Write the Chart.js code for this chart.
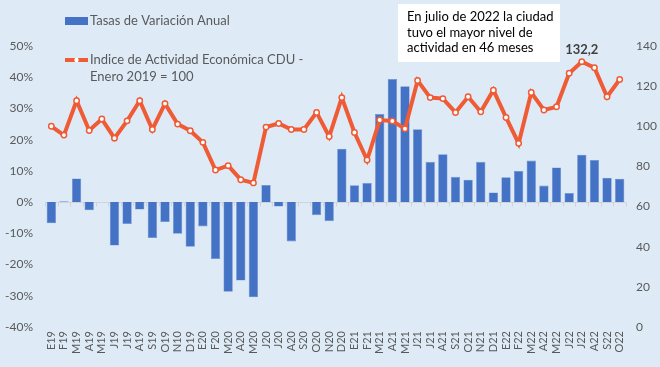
<!DOCTYPE html>
<html>
<head>
<meta charset="utf-8">
<script src="https://cdn.jsdelivr.net/npm/chart.js"></script>
<style>
  html, body { margin: 0; padding: 0; background: #DEEBF7; }
  #wrap { position: relative; width: 660px; height: 367px; }
</style>
</head>
<body>
<div id="wrap"><canvas id="chart" width="660" height="367"></canvas></div>
<script>
// --- data ---
const meses = ["E19","F19","M19","A19","M19","J19","J19","A19","S19","O19","N10","D19",
  "E20","F20","M20","A20","M20","J20","J20","A20","S20","O20","N20","D20",
  "E21","F21","M21","A21","M21","J21","J21","A21","S21","O21","N21","D21",
  "E22","F22","M22","A22","M22","J22","J22","A22","S22","O22"];

// Tasas de variación anual (%)
const variacion = [-6.8, 0.3, 7.6, -2.6, 0, -13.9, -7.0, -2.4, -11.5, -6.4, -10.1, -14.3,
  -7.8, -18.2, -28.7, -25.1, -30.5, 5.5, -1.4, -12.6, 0, -4.2, -6.1, 17.1,
  5.4, 6.1, 28.2, 39.4, 37.1, 23.3, 12.9, 15.3, 8.1, 7.2, 12.9, 3.1,
  8.0, 10.0, 13.3, 5.3, 11.1, 2.9, 15.2, 13.5, 7.8, 7.5];

// Indice de Actividad Económica CDU (Enero 2019 = 100)
const indice = [100, 95.6, 112.7, 97.9, 103.6, 94.1, 102.7, 112.7, 98.4, 111.3, 101.1, 97.8,
  92.0, 78.2, 80.4, 73.4, 71.8, 99.6, 101.4, 98.4, 98.4, 106.9, 94.9, 114.3,
  96.9, 83.2, 103.1, 102.6, 98.8, 122.8, 114.3, 113.8, 106.9, 114.7, 107.2, 118.0,
  104.4, 91.5, 116.8, 108.1, 109.7, 126.4, 132.2, 129.2, 114.7, 123.3];

const pctTicks = [-40, -30, -20, -10, 0, 10, 20, 30, 40, 50];
const idxTicks = [0, 20, 40, 60, 80, 100, 120, 140];

const nota = ["En julio de 2022 la ciudad", "tuvo el mayor nivel de", "actividad en 46 meses"];
const maxIdx = 42; // julio 2022

const AZUL = "#4472C4";
const NARANJA = "#EF5B35";
const GRIS = "#595959";
const FONT = "Lato, 'Open Sans', sans-serif";

// zero line + small ticks at category boundaries
const zeroLine = {
  id: "zeroLine",
  beforeDatasetsDraw(chart) {
    const { ctx, chartArea: a, scales } = chart;
    const y0 = Math.round(scales.y.getPixelForValue(0)) + 0.5;
    ctx.save();
    ctx.strokeStyle = "#D0D4D9";
    ctx.lineWidth = 1;
    ctx.beginPath();
    ctx.moveTo(a.left, y0);
    ctx.lineTo(a.right, y0);
    const step = (a.right - a.left) / meses.length;
    for (let i = 0; i <= meses.length; i++) {
      const x = Math.round(a.left + i * step) + 0.5;
      ctx.moveTo(x, y0);
      ctx.lineTo(x, y0 + 4);
    }
    ctx.stroke();
    ctx.restore();
  }
};

// legend, note box and max label
const extras = {
  id: "extras",
  afterDraw(chart) {
    const { ctx } = chart;
    ctx.save();
    // legend
    ctx.fillStyle = AZUL;
    ctx.fillRect(65, 17, 23, 8);
    ctx.strokeStyle = NARANJA;
    ctx.lineWidth = 4;
    ctx.beginPath();
    ctx.moveTo(65, 60);
    ctx.lineTo(88, 60);
    ctx.stroke();
    ctx.beginPath();
    ctx.arc(76.5, 60, 2.2, 0, Math.PI * 2);
    ctx.fillStyle = "#fff";
    ctx.fill();
    ctx.fillStyle = GRIS;
    ctx.font = "13px " + FONT;
    ctx.textBaseline = "middle";
    ctx.fillText("Tasas de Variación Anual", 90, 21);
    ctx.fillText("Indice de Actividad Económica CDU -", 90, 60);
    ctx.fillText("Enero 2019 = 100", 90, 77);

    // note box
    ctx.fillStyle = "#fff";
    ctx.fillRect(398, 4, 162, 58);
    ctx.fillStyle = "#000";
    ctx.font = "13px " + FONT;
    nota.forEach((t, i) => ctx.fillText(t, 407, 17 + i * 15.5));

    // max label
    const pt = chart.getDatasetMeta(1).data[maxIdx];
    ctx.fillStyle = "#404040";
    ctx.font = "bold 13px " + FONT;
    ctx.textAlign = "center";
    ctx.fillText(indice[maxIdx].toFixed(1).replace(".", ","), pt.x, pt.y - 12);
    ctx.restore();
  }
};

new Chart(document.getElementById("chart"), {
  data: {
    labels: meses,
    datasets: [
      {
        type: "bar",
        label: "Tasas de Variación Anual",
        data: variacion,
        yAxisID: "y",
        backgroundColor: AZUL,
        borderColor: "#6F8FD3",
        borderWidth: 0.6,
        barPercentage: 0.74,
        categoryPercentage: 1.0,
        order: 2
      },
      {
        type: "line",
        label: "Indice de Actividad Económica CDU - Enero 2019 = 100",
        data: indice,
        yAxisID: "y1",
        borderColor: NARANJA,
        borderWidth: 4,
        pointRadius: 2.7,
        pointBorderWidth: 1.5,
        pointBackgroundColor: "#fff",
        pointBorderColor: NARANJA,
        tension: 0,
        order: 1
      }
    ]
  },
  options: {
    responsive: false,
    devicePixelRatio: 1,
    animation: false,
    layout: { padding: { top: 46, bottom: 0, left: 0, right: 0 } },
    plugins: { legend: { display: false }, tooltip: { enabled: false } },
    scales: {
      x: {
        offset: true,
        grid: { display: false, drawTicks: false },
        border: { display: false },
        ticks: {
          color: GRIS, font: { family: FONT, size: 11 },
          autoSkip: false, minRotation: 90, maxRotation: 90, padding: 4
        },
        afterFit(s) { s.height = 40; }
      },
      y: {
        position: "left",
        min: pctTicks[0], max: pctTicks[pctTicks.length - 1],
        grid: { display: false, drawTicks: false },
        border: { display: false },
        ticks: {
          stepSize: 10, color: GRIS, font: { family: FONT, size: 12 }, padding: 12,
          callback: v => v + "%"
        },
        afterFit(s) { s.width = 45; }
      },
      y1: {
        position: "right",
        min: idxTicks[0], max: idxTicks[idxTicks.length - 1],
        grid: { display: false, drawTicks: false },
        border: { display: false },
        ticks: { stepSize: 20, color: GRIS, font: { family: FONT, size: 12 }, padding: 10 },
        afterFit(s) { s.width = 34; }
      }
    }
  },
  plugins: [zeroLine, extras]
});
</script>
</body>
</html>
